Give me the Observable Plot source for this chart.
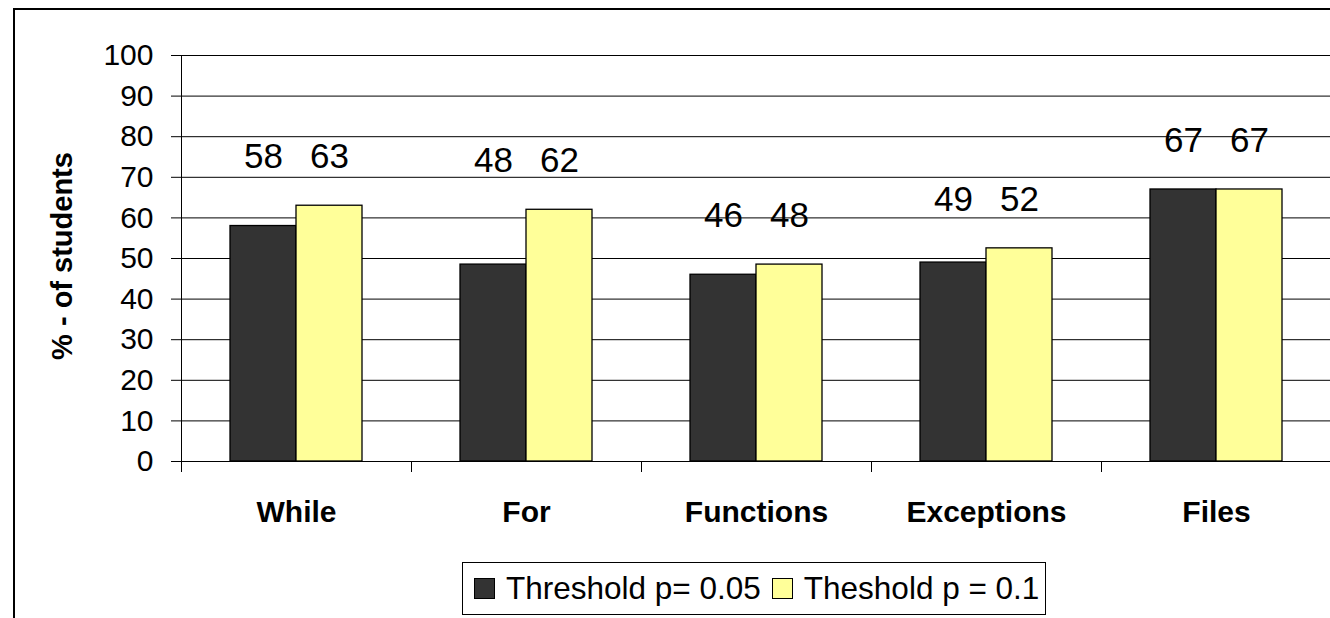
<!DOCTYPE html>
<html>
<head>
<meta charset="utf-8">
<script src="https://cdn.jsdelivr.net/npm/d3@7"></script>
<script src="https://cdn.jsdelivr.net/npm/@observablehq/plot@0.6"></script>
<style>
  html, body { margin: 0; padding: 0; background: #fff; }
  #wrap { position: relative; width: 1330px; height: 618px; overflow: hidden; font-family: "Liberation Sans", Arial, sans-serif; }
  #border { position: absolute; left: 13px; top: 8px; width: 1400px; height: 700px; border-left: 2px solid #000; border-top: 2px solid #000; }
  #chart { position: absolute; left: 0; top: 0; width: 1340px; }
  #chart svg { max-width: none !important; }
  #chart svg g[aria-label="y-axis tick label"] { font-size: 30px; }
  #chart svg g[aria-label="fx-axis tick label"] { font-size: 30px; font-weight: bold; }
  #ytitle { position: absolute; left: 62px; top: 256px; width: 0; height: 0; }
  #ytitle span { position: absolute; left: 0; top: 0; transform: translate(-50%, -50%) rotate(-90deg); white-space: nowrap; font-weight: bold; font-size: 29px; line-height: 1; color: #000; }
  #legend { position: absolute; left: 462px; top: 562px; width: 582px; height: 51px; border: 1px solid #000; background: #fff; display: flex; align-items: center; box-sizing: content-box; }
  #legend .item { display: flex; align-items: center; margin-left: 11px; }
  #legend .sw { width: 19px; height: 19px; border: 1px solid #000; margin-right: 11px; }
  #legend .lbl { font-size: 31.5px; color: #000; white-space: nowrap; }
</style>
</head>
<body>
<div id="wrap">
  <div id="border"></div>
  <div id="chart"></div>
  <div id="ytitle"><span></span></div>
  <div id="legend"></div>
</div>
<script>
const categories = ["While", "For", "Functions", "Exceptions", "Files"];
const seriesNames = ["Threshold p= 0.05", "Theshold p = 0.1"];
const valuesP005 = [58, 48.5, 46, 49, 67];
const valuesP01 = [63, 62, 48.5, 52.5, 67];
const labelsP005 = ["58", "48", "46", "49", "67"];
const labelsP01 = ["63", "62", "48", "52", "67"];
const yTicks = [0, 10, 20, 30, 40, 50, 60, 70, 80, 90, 100];
const seriesColors = ["#333333", "#FFFF99"];
const yTitle = "% - of students";

const rows = [];
categories.forEach((c, i) => {
  const top = Math.max(valuesP005[i], valuesP01[i]);
  rows.push({category: c, series: seriesNames[0], value: valuesP005[i], label: labelsP005[i], labelY: top + 12});
  rows.push({category: c, series: seriesNames[1], value: valuesP01[i], label: labelsP01[i], labelY: top + 12});
});

const chart = Plot.plot({
  width: 1338,
  height: 541,
  marginLeft: 179,
  marginRight: 6,
  marginTop: 55,
  marginBottom: 80,
  style: {fontFamily: "Liberation Sans, Arial, sans-serif", color: "#000", background: "transparent", overflow: "visible", maxWidth: "none"},
  fx: {domain: categories, padding: 0, label: null},
  x: {domain: seriesNames, paddingInner: 0, paddingOuter: 0.734, axis: null},
  y: {domain: [0, 100], label: null},
  color: {domain: seriesNames, range: seriesColors},
  marks: [
    Plot.ruleY(yTicks, {stroke: "#000", strokeWidth: 1}),
    Plot.barY(rows, {fx: "category", x: "series", y: "value", fill: "series", stroke: "#000", strokeWidth: 1.3, inset: 0}),
    Plot.text(rows, {fx: "category", x: "series", y: "labelY", text: "label", fontSize: 35, fill: "#000"}),
    Plot.frame({anchor: "left", insetTop: 406, insetBottom: -10, stroke: "#000"}),
    Plot.frame({anchor: "left", facet: "super", insetBottom: -10, stroke: "#000"}),
    Plot.axisY({ticks: yTicks, tickSize: 10, tickPadding: 18, label: null, tickFormat: d => String(d)}),
    Plot.axisFx({anchor: "bottom", tickSize: 0, tickPadding: 39, label: null})
  ]
});
document.getElementById("chart").appendChild(chart);

document.querySelector("#ytitle span").textContent = yTitle;

const legend = document.getElementById("legend");
seriesNames.forEach((name, i) => {
  const item = document.createElement("div");
  item.className = "item";
  const sw = document.createElement("div");
  sw.className = "sw";
  sw.style.background = seriesColors[i];
  const lbl = document.createElement("span");
  lbl.className = "lbl";
  lbl.textContent = name;
  item.appendChild(sw);
  item.appendChild(lbl);
  legend.appendChild(item);
});
</script>
</body>
</html>
